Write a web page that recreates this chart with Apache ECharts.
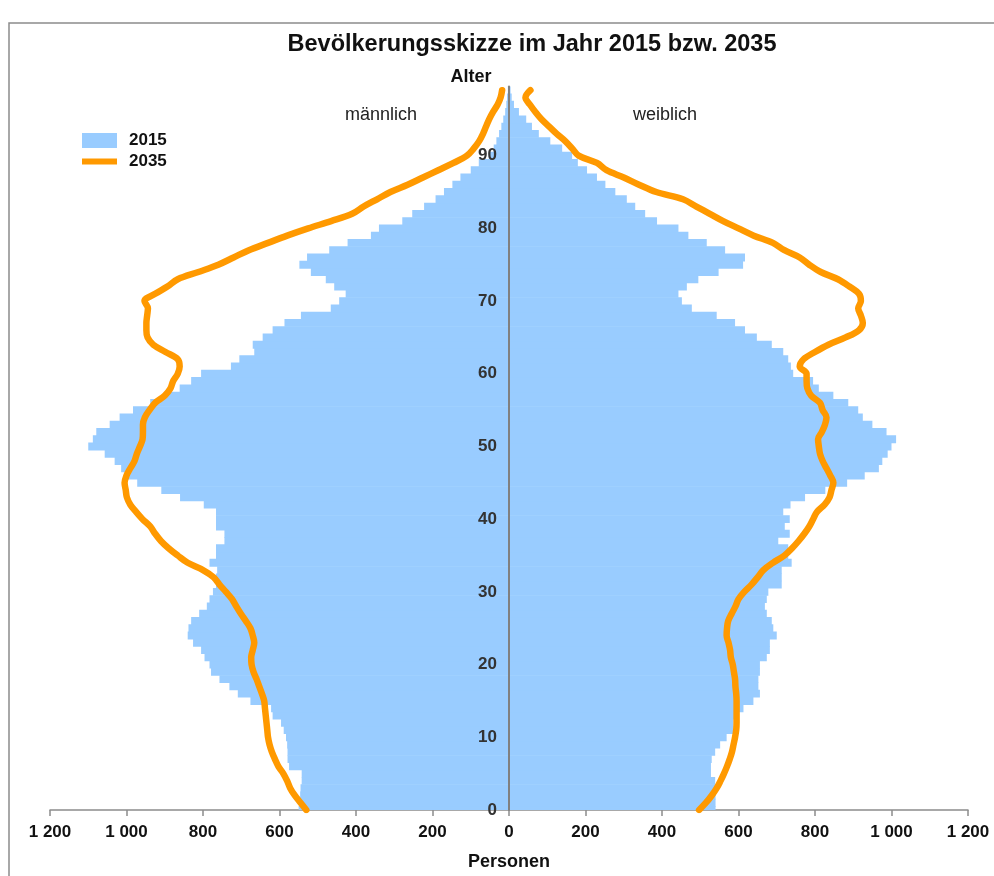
<!DOCTYPE html>
<html>
<head>
<meta charset="utf-8">
<title>Bevölkerungsskizze</title>
<script src="https://cdn.jsdelivr.net/npm/echarts@6/dist/echarts.min.js"></script>
<style>
  html, body { margin: 0; padding: 0; background: #fff; }
  #chart { width: 994px; height: 876px; }
</style>
</head>
<body>
<div id="chart"></div>
<script>
// Alter 0 .. 99
const ages = [
  0, 1, 2, 3, 4, 5, 6, 7, 8, 9,
  10, 11, 12, 13, 14, 15, 16, 17, 18, 19,
  20, 21, 22, 23, 24, 25, 26, 27, 28, 29,
  30, 31, 32, 33, 34, 35, 36, 37, 38, 39,
  40, 41, 42, 43, 44, 45, 46, 47, 48, 49,
  50, 51, 52, 53, 54, 55, 56, 57, 58, 59,
  60, 61, 62, 63, 64, 65, 66, 67, 68, 69,
  70, 71, 72, 73, 74, 75, 76, 77, 78, 79,
  80, 81, 82, 83, 84, 85, 86, 87, 88, 89,
  90, 91, 92, 93, 94, 95, 96, 97, 98, 99
]

// Personen 2015 (Balken)
const male2015 = [
  550, 548, 546, 545, 542, 542, 575, 579, 579, 580,
  583, 589, 596, 618, 622, 676, 709, 731, 757, 779,
  783, 796, 805, 826, 840, 838, 831, 810, 790, 783,
  774, 766, 766, 763, 783, 766, 766, 744, 744, 766,
  766, 766, 798, 860, 909, 972, 996, 1014, 1031, 1057,
  1100, 1088, 1079, 1044, 1018, 983, 938, 900, 861, 831,
  805, 727, 705, 666, 670, 644, 618, 587, 544, 466,
  444, 427, 457, 479, 518, 548, 528, 470, 422, 361,
  340, 279, 253, 222, 192, 170, 148, 127, 100, 79,
  53, 40, 33, 26, 20, 15, 10, 7, 5, 3
]
const female2015 = [
  540, 540, 540, 539, 539, 528, 528, 530, 539, 552,
  569, 587, 587, 590, 613, 639, 656, 652, 652, 656,
  656, 674, 682, 682, 700, 691, 687, 674, 669, 674,
  678, 713, 713, 713, 739, 730, 730, 704, 734, 721,
  734, 717, 736, 774, 827, 884, 930, 967, 976, 990,
  1000, 1012, 987, 950, 925, 913, 887, 848, 810, 795,
  743, 737, 730, 717, 687, 648, 617, 591, 543, 478,
  452, 443, 465, 495, 548, 612, 617, 565, 517, 469,
  443, 387, 356, 330, 308, 278, 252, 230, 204, 180,
  165, 139, 108, 78, 60, 45, 26, 13, 7, 4
]

// Personen 2035 (Linie)
const male2035 = [
  530, 545, 560, 572, 580, 590, 603, 612, 620, 626,
  630, 632, 634, 636, 638, 640, 646, 653, 660, 668,
  673, 674, 670, 666, 670, 676, 688, 701, 713, 724,
  740, 757, 772, 800, 840, 866, 890, 910, 925, 938,
  958, 975, 990, 999, 1002, 1005, 1000, 990, 979, 973,
  965, 958, 957, 957, 952, 940, 925, 900, 885, 878,
  866, 861, 866, 898, 930, 945, 948, 948, 946, 944,
  953, 925, 893, 866, 812, 760, 720, 680, 630, 580,
  525, 465, 410, 380, 345, 310, 265, 225, 185, 145,
  110, 92, 78, 68, 60, 52, 42, 30, 22, 18
]
const female2035 = [
  497, 515, 530, 543, 553, 562, 570, 577, 583, 587,
  591, 594, 595, 595, 595, 595, 594, 592, 591, 588,
  585, 580, 578, 574, 569, 570, 573, 582, 592, 600,
  615, 634, 650, 665, 690, 720, 740, 757, 772, 785,
  795, 805, 825, 838, 843, 848, 840, 830, 820, 813,
  810, 808, 818, 826, 830, 820, 813, 790, 780, 778,
  778, 760, 770, 800, 835, 880, 915, 925, 920, 913,
  920, 915, 890, 860, 815, 785, 760, 720, 690, 640,
  600, 560, 525, 490, 455, 385, 340, 300, 255, 230,
  182, 165, 147, 125, 105, 85, 69, 55, 43, 56
]

const FONT = '"Liberation Sans", Arial, Helvetica, sans-serif'
const BLUE = '#99CCFF'
const ORANGE = '#FF9900'
const GRID_LEFT = 50
const ZERO_X = 509

function fmtPersons(v) {
  const a = Math.abs(v)
  if (a >= 1000) {
    return Math.floor(a / 1000) + ' ' + String(a % 1000).padStart(3, '0')
  }
  return String(a)
}

// ein Balken je Altersjahr, zentriert auf das Alter
function ageBar(params, api) {
  const v = api.value(0)
  const age = api.value(1)
  const p0 = api.coord([0, age + 0.5])
  const p1 = api.coord([v, age - 0.5])
  return {
    type: 'rect',
    shape: {
      x: Math.min(p0[0], p1[0]),
      y: p0[1] - 0.3,
      width: Math.abs(p1[0] - p0[0]),
      height: p1[1] - p0[1] + 0.6
    },
    style: { fill: BLUE }
  }
}

function label(text, x, y, font, color) {
  return {
    type: 'text',
    x: x, y: y,
    silent: true,
    style: {
      text: text, font: font, fill: color,
      align: 'center', verticalAlign: 'middle',
      textAlign: 'center', textVerticalAlign: 'middle'
    }
  }
}

const chart = echarts.init(document.getElementById('chart'))

chart.setOption({
  backgroundColor: '#fff',
  animation: false,
  textStyle: { fontFamily: FONT },
  graphic: [
    {
      type: 'rect',
      silent: true,
      shape: { x: 9, y: 23, width: 1000, height: 900 },
      style: { fill: 'none', stroke: '#8c8c8c', lineWidth: 1.5 }
    },
    label('Bevölkerungsskizze im Jahr 2015 bzw. 2035', 532, 45, 'bold 23.5px ' + FONT, '#111'),
    label('Alter', 471, 77, 'bold 18px ' + FONT, '#111'),
    label('männlich', 381, 115, '18px ' + FONT, '#222'),
    label('weiblich', 665, 115, '18px ' + FONT, '#222')
  ],
  legend: {
    orient: 'vertical',
    left: 82,
    top: 132,
    padding: 0,
    itemWidth: 35,
    itemHeight: 15,
    itemGap: 4,
    selectedMode: false,
    textStyle: { fontFamily: FONT, fontWeight: 'bold', fontSize: 17, color: '#111', padding: [0, 0, 0, 7] },
    data: [
      { name: '2015', icon: 'rect' },
      { name: '2035', icon: 'path://M0,0 L35,0 L35,6 L0,6 Z' }
    ]
  },
  grid: {
    left: GRID_LEFT,
    right: 26,
    top: 86.6,
    bottom: 66,
    containLabel: false
  },
  xAxis: {
    type: 'value',
    min: -1200,
    max: 1200,
    interval: 200,
    name: 'Personen',
    nameLocation: 'middle',
    nameGap: 43,
    nameTextStyle: { fontFamily: FONT, fontWeight: 'bold', fontSize: 18, color: '#111' },
    axisLine: { lineStyle: { color: '#8c8c8c', width: 1.5 } },
    axisTick: { show: true, length: 6, lineStyle: { color: '#8c8c8c', width: 1.5 } },
    axisLabel: {
      margin: 14,
      fontFamily: FONT, fontWeight: 'bold', fontSize: 17, color: '#111',
      formatter: fmtPersons
    },
    splitLine: { show: false }
  },
  yAxis: {
    type: 'value',
    min: 0,
    max: 99.5,
    interval: 10,
    z: 3,
    position: 'left',
    offset: GRID_LEFT - ZERO_X,
    axisLine: { onZero: false, lineStyle: { color: '#808080', width: 2 } },
    axisTick: { show: false },
    axisLabel: {
      margin: 12,
      fontFamily: FONT, fontWeight: 'bold', fontSize: 17, color: '#333',
      showMaxLabel: false,
      formatter: v => (v % 10 === 0 ? String(v) : '')
    },
    splitLine: { show: false }
  },
  series: [
    {
      name: '2015',
      type: 'custom',
      renderItem: ageBar,
      clip: true,
      z: 1,
      itemStyle: { color: BLUE },
      encode: { x: 0, y: 1 },
      data: male2015.map((v, i) => [-v, ages[i]])
    },
    {
      name: '2015',
      type: 'custom',
      renderItem: ageBar,
      clip: true,
      z: 1,
      itemStyle: { color: BLUE },
      encode: { x: 0, y: 1 },
      data: female2015.map((v, i) => [v, ages[i]])
    },
    {
      name: '2035',
      type: 'line',
      smooth: 0.35,
      symbol: 'none',
      z: 4,
      lineStyle: { color: ORANGE, width: 6.5, cap: 'round', join: 'round' },
      itemStyle: { color: ORANGE },
      data: male2035.map((v, i) => [-v, ages[i]])
    },
    {
      name: '2035',
      type: 'line',
      smooth: 0.35,
      symbol: 'none',
      z: 4,
      lineStyle: { color: ORANGE, width: 6.5, cap: 'round', join: 'round' },
      itemStyle: { color: ORANGE },
      data: female2035.map((v, i) => [v, ages[i]])
    }
  ]
})
</script>
</body>
</html>
